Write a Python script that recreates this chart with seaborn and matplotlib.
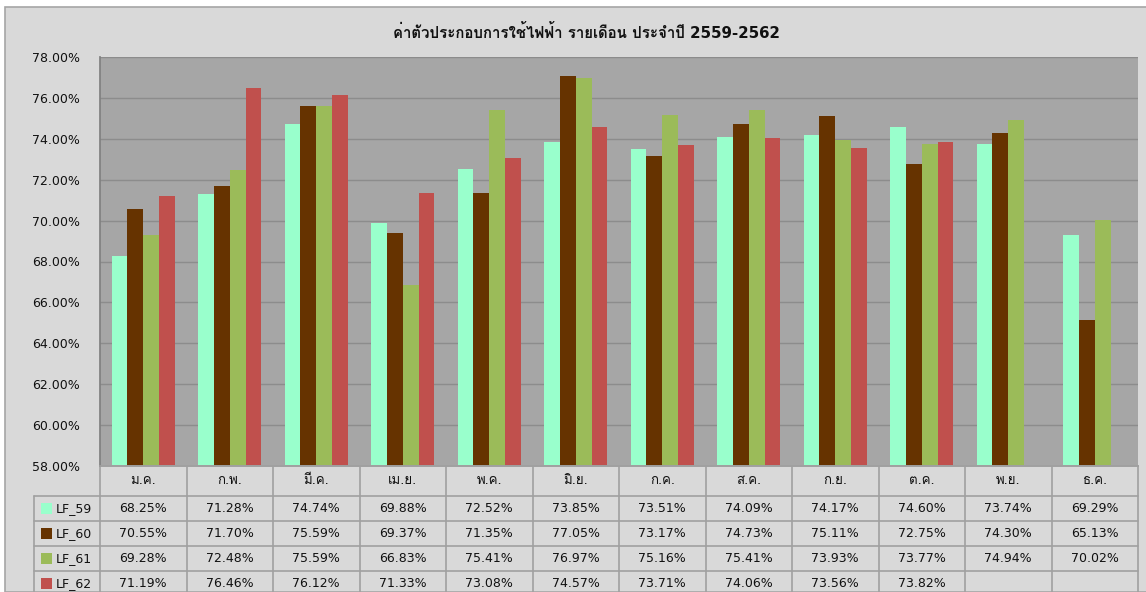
import matplotlib
matplotlib.use("Agg")
import matplotlib.pyplot as plt
import matplotlib.transforms as mtransforms
from matplotlib import font_manager
from matplotlib.ft2font import FT2Font
from matplotlib.patches import Rectangle
from matplotlib.ticker import FuncFormatter
import numpy as np
import pandas as pd
import seaborn as sns

months = ["ม.ค.", "ก.พ.", "มี.ค.", "เม.ย.", "พ.ค.", "มิ.ย.",
          "ก.ค.", "ส.ค.", "ก.ย.", "ต.ค.", "พ.ย.", "ธ.ค."]
series = ["LF_59", "LF_60", "LF_61", "LF_62"]
lf_59 = [68.25, 71.28, 74.74, 69.88, 72.52, 73.85, 73.51, 74.09, 74.17, 74.60, 73.74, 69.29]
lf_60 = [70.55, 71.70, 75.59, 69.37, 71.35, 77.05, 73.17, 74.73, 75.11, 72.75, 74.30, 65.13]
lf_61 = [69.28, 72.48, 75.59, 66.83, 75.41, 76.97, 75.16, 75.41, 73.93, 73.77, 74.94, 70.02]
lf_62 = [71.19, 76.46, 76.12, 71.33, 73.08, 74.57, 73.71, 74.06, 73.56, 73.82, None, None]
colors = ["#99FFCC", "#663300", "#9BBB59", "#C0504D"]
title = "ค่าตัวประกอบการใช้ไฟฟ้า รายเดือน ประจำปี 2559-2562"


def thai_font():
    for f in font_manager.fontManager.ttflist:
        try:
            if 0x0E01 in FT2Font(f.fname).get_charmap():
                return f.name
        except Exception:
            pass
    return None


sns.set_theme(style="white")
fam = ["DejaVu Sans"]
tf = thai_font()
if tf:
    fam.append(tf)
plt.rcParams["font.family"] = fam

rows = []
for name, vals in zip(series, [lf_59, lf_60, lf_61, lf_62]):
    for m, v in zip(months, vals):
        rows.append({"month": m, "series": name, "value": np.nan if v is None else v})
df = pd.DataFrame(rows)

W, H = 1146, 592
fig = plt.figure(figsize=(W / 100, H / 100), dpi=100, facecolor="white")
fig.patches.append(Rectangle((5 / W, 0), 1, 1 - 7 / H, transform=fig.transFigure,
                             facecolor="#D9D9D9", edgecolor="#A6A6A6", lw=1.2, zorder=-10))

ax_l, ax_r, ax_t, ax_b = 100, 1138, 57, 466
ax = fig.add_axes([ax_l / W, 1 - ax_b / H, (ax_r - ax_l) / W, (ax_b - ax_t) / H])
ax.set_facecolor("#A6A6A6")

sns.barplot(data=df, x="month", y="value", hue="series", order=months,
            hue_order=series, palette=colors, saturation=1, width=0.73,
            linewidth=0, ax=ax, legend=False)

ax.set_ylim(58, 78)
ax.set_xlim(-0.5, 11.5)
ax.set_yticks(np.arange(58, 78.1, 2))
ax.yaxis.set_major_formatter(FuncFormatter(lambda v, p: f"{v:.2f}%"))
ax.tick_params(axis="y", length=0, pad=14.5, labelsize=9, labelcolor="#111111")
ax.set_xticks([])
ax.set_xlabel("")
ax.set_ylabel("")
ax.grid(axis="y", color="#8C8C8C", lw=1.0)
ax.set_axisbelow(True)
for s in ["top", "right"]:
    ax.spines[s].set_visible(False)
ax.spines["left"].set_color("#808080")
ax.spines["bottom"].set_color("#A0A0A0")

fig.text(586 / W, 1 - 33 / H, title, ha="center", va="center",
         fontsize=10.8, fontweight="bold", color="#111111")

# data table below the plot, columns aligned to the category axis
trans = mtransforms.blended_transform_factory(ax.transData, ax.transAxes)
ah = ax_b - ax_t
px = lambda p: -p / ah
line_kw = dict(color="#A0A0A0", lw=1.2, transform=trans, clip_on=False)

head_h, row_h = 30, 25
y_edges = [0, head_h] + [head_h + row_h * (i + 1) for i in range(4)]
lab_left = -0.5 - 66 / 86.5

for i, m in enumerate(months):
    ax.text(i, px(head_h / 2), m, ha="center", va="center", fontsize=9.5,
            transform=trans, clip_on=False, color="#111111")
for k in range(13):
    ax.plot([k - 0.5, k - 0.5], [px(0), px(y_edges[-1])], **line_kw)
for y in y_edges[1:]:
    ax.plot([lab_left, 11.5], [px(y), px(y)], **line_kw)
ax.plot([-0.5, 11.5], [px(0), px(0)], **line_kw)
ax.plot([lab_left, lab_left], [px(head_h), px(y_edges[-1])], **line_kw)

for r, (name, vals, c) in enumerate(zip(series, [lf_59, lf_60, lf_61, lf_62], colors)):
    yc = px(head_h + row_h * r + row_h / 2)
    for i, v in enumerate(vals):
        if v is not None:
            ax.text(i, yc, f"{v:.2f}%", ha="center", va="center", fontsize=9,
                    transform=trans, clip_on=False, color="#111111")
    sq = Rectangle((lab_left + 7 / 86.5, yc - 5.5 / ah), 11 / 86.5, 11 / ah,
                   transform=trans, clip_on=False, facecolor=c, edgecolor="none")
    ax.add_patch(sq)
    ax.text(lab_left + 22 / 86.5, yc, name, ha="left", va="center", fontsize=9,
            transform=trans, clip_on=False, color="#111111")

fig.savefig("out.png", dpi=100, facecolor=fig.get_facecolor())
